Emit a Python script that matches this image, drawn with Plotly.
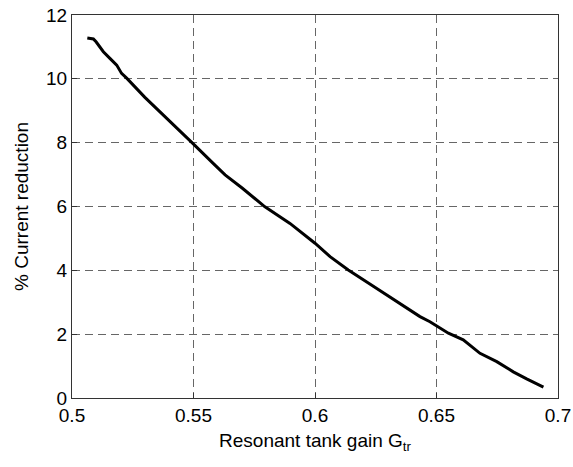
import plotly.graph_objects as go

gain = [0.5063, 0.5088, 0.5099, 0.5129, 0.5156, 0.5184, 0.5204, 0.5225, 0.5300,
        0.5400, 0.5497, 0.5581, 0.5630, 0.5700, 0.5794, 0.5897, 0.6000, 0.6062,
        0.6137, 0.6240, 0.6336, 0.6391, 0.6432, 0.6473, 0.6549, 0.6610, 0.6679,
        0.6748, 0.6816, 0.6871, 0.6940]
reduction = [11.28, 11.25, 11.16, 10.85, 10.64, 10.43, 10.17, 10.02, 9.42,
             8.70, 7.98, 7.35, 6.99, 6.58, 5.99, 5.47, 4.85, 4.43,
             4.01, 3.50, 3.02, 2.76, 2.55, 2.39, 2.03, 1.82, 1.40,
             1.14, 0.82, 0.60, 0.34]

x_ticks = [0.5, 0.55, 0.6, 0.65, 0.7]
x_tick_text = ["0.5", "0.55", "0.6", "0.65", "0.7"]
y_ticks = [0, 2, 4, 6, 8, 10, 12]

fig = go.Figure(go.Scatter(x=gain, y=reduction, mode="lines",
                           line=dict(color="black", width=3), showlegend=False))

font = dict(family="Liberation Sans, Arial, sans-serif", size=19, color="black")
axis_common = dict(showline=True, linecolor="#333", linewidth=1, mirror=True,
                   showgrid=True, gridcolor="#666", griddash="8px,5px", gridwidth=1,
                   ticks="inside", ticklen=5, tickcolor="#333", zeroline=False,
                   tickfont=font, automargin=False)

fig.update_xaxes(range=[0.5, 0.7], tickvals=x_ticks, ticktext=x_tick_text,
                 title=dict(text="Resonant tank gain G<sub>tr</sub>", font=font, standoff=8),
                 **axis_common)
fig.update_yaxes(range=[0, 12], tickvals=y_ticks,
                 title=dict(text="% Current reduction", font=font, standoff=12),
                 **axis_common)

fig.update_layout(width=573, height=467, margin=dict(l=72, r=15, t=15, b=69),
                  plot_bgcolor="white", paper_bgcolor="white", font=font)

fig.write_html("out.html")
